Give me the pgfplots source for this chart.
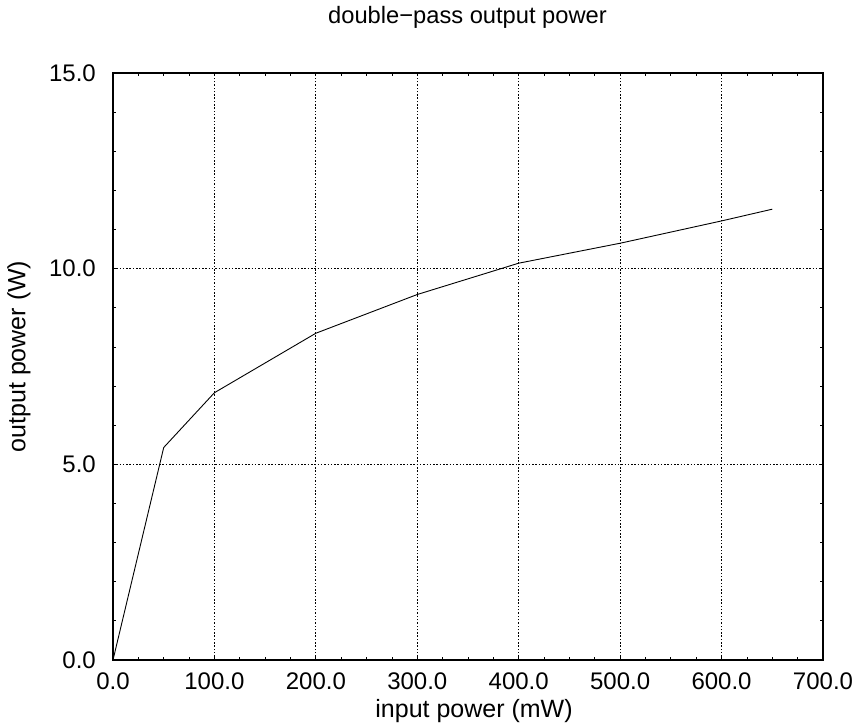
\documentclass[border=0pt]{standalone}
\usepackage{pgfplots}
\pgfplotsset{compat=1.18}
\usepackage{fontspec}
\setmainfont{Liberation Sans}
\begin{document}
\begin{tikzpicture}
\begin{axis}[
  scale only axis,
  width=710pt, height=587pt,
  xmin=0, xmax=700, ymin=0, ymax=15,
  xtick={0,100,...,700}, ytick={0,5,10,15},
  minor x tick num=3, minor y tick num=4,
  tick align=inside,
  major tick length=3.5pt, minor tick length=3.5pt,
  every tick/.style={black, line width=0.8pt},
  axis line style={line width=1.8pt},
  grid=major,
  major grid style={black, line width=0.8pt, dash pattern=on 1.5pt off 1.8pt},
  /pgf/number format/.cd, fixed, fixed zerofill, precision=1, 1000 sep={}, assume math mode=true,
  /pgfplots/.cd,
  tick label style={font=\fontsize{24}{26}\selectfont, inner sep=0pt},
  xticklabel style={anchor=north, yshift=-13pt},
  yticklabel style={anchor=east, xshift=-17pt},
  title={double\textminus pass output power},
  title style={font=\fontsize{23.7}{26}\selectfont, at={(axis description cs:0.4993,1.0852)}, anchor=center, inner sep=0pt},
  xlabel={input power (mW)},
  xlabel style={font=\fontsize{25}{28}\selectfont, at={(axis description cs:0.5085,-0.0869)}, anchor=center, inner sep=0pt},
  ylabel={output power (W)},
  ylabel style={font=\fontsize{25}{28}\selectfont, at={(axis description cs:-0.1324,0.517)}, anchor=center, inner sep=0pt, rotate=0},
]
\addplot[black, line width=0.9pt, mark=none] coordinates {
  (0,0) (50,5.43) (100,6.83) (200,8.35) (300,9.34) (400,10.14)
  (500,10.65) (600,11.22) (650,11.52)
};
\end{axis}
\path[use as bounding box] (-113pt,-63pt) rectangle (744pt,660pt);
\end{tikzpicture}
\end{document}
